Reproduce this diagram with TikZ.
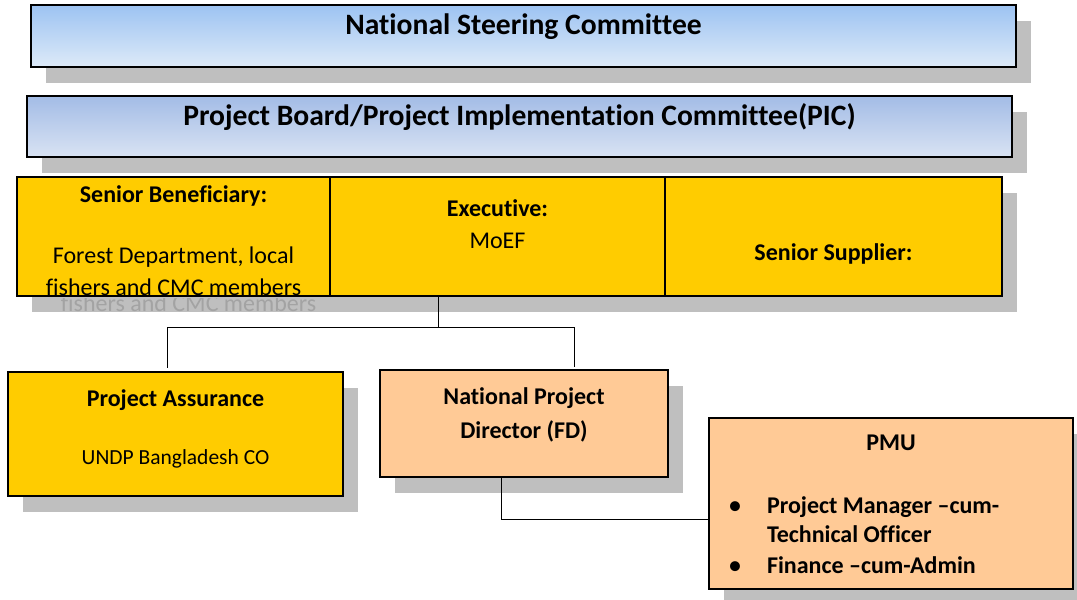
\documentclass[tikz,border=0pt]{standalone}
\usepackage{fontspec}
\setmainfont{Carlito}[Ligatures={TeX,NoCommon}]
\usetikzlibrary{positioning, shadows}
\definecolor{shadowgray}{HTML}{BFBFBF}
\definecolor{ghostgray}{HTML}{A3A3A3}
\definecolor{boxyellow}{HTML}{FFCC00}
\definecolor{boxpeach}{HTML}{FFCA96}
\definecolor{nscTop}{HTML}{9DC3F2}
\definecolor{nscBot}{HTML}{DDEAF8}
\definecolor{picTop}{HTML}{A3BCE6}
\definecolor{picBot}{HTML}{D9E3F3}

\begin{document}
\begin{tikzpicture}[x=1pt, y=-1pt,
    every node/.style={inner sep=0pt, outer sep=0pt},
    box/.style={draw=black, line width=1.4pt, anchor=north west,
        general shadow={fill=shadowgray, shadow xshift=15pt, shadow yshift=-16pt}},
    title/.style={anchor=base, font=\fontsize{29.6}{34}\selectfont\bfseries},
    txt/.style={anchor=base, font=\fontsize{24}{28}\selectfont},
    btxt/.style={txt, font=\fontsize{24}{28}\selectfont\bfseries},
    link/.style={line width=1pt}]
    \useasboundingbox (0,0) rectangle (1077,600);

    % committees on top
    \node[box, top color=nscTop, bottom color=nscBot, minimum width=985pt, minimum height=62pt] (nsc) at (31,5) {};
    \node[title] (nsctext) at (523.5,34) {National Steering Committee};

    \node[box, top color=picTop, bottom color=picBot, minimum width=985pt, minimum height=61pt] (pic) at (27,96) {};
    \node[title] (pictext) at (519.5,125) {Project Board/Project Implementation Committee(PIC)};

    % board members
    \node[box, fill=boxyellow, minimum width=313pt, minimum height=119pt] (benef) at (17,177) {};
    \node[box, fill=boxyellow, minimum width=335pt, minimum height=119pt] (exec) at (330,177) {};
    \node[box, fill=boxyellow, minimum width=337pt, minimum height=119pt] (supp) at (665,177) {};

    \node[btxt] (beneftitle) at (173.5,202) {Senior Beneficiary:};
    \node[txt] (benefa) at (173.5,263) {Forest Department, local};
    \node[txt] (benefb) at (173.5,295) {fishers and CMC members};
    \begin{scope}
        \clip (0,298) rectangle (400,330);
        \node[txt, text=ghostgray] (benefghost) at (188.5,311) {fishers and CMC members};
    \end{scope}

    \node[btxt] (exectitle) at (497.5,216) {Executive:};
    \node[txt] (execa) at (497.5,248) {MoEF};

    \node[btxt] (supptitle) at (833.5,260) {Senior Supplier:};

    % lower level
    \node[box, fill=boxyellow, minimum width=335pt, minimum height=124pt] (pa) at (8,372) {};
    \node[btxt] (patitle) at (175.5,406) {Project Assurance};
    \node[txt, font=\fontsize{21.5}{26}\selectfont] (paa) at (175.5,464) {UNDP Bangladesh CO};

    \node[box, fill=boxpeach, minimum width=288pt, minimum height=107pt] (npd) at (380,370) {};
    \node[btxt] (npda) at (524,404) {National Project};
    \node[btxt] (npdb) at (524,438) {Director (FD)};

    \node[box, fill=boxpeach, minimum width=364pt, minimum height=171pt] (pmu) at (709,418) {};
    \node[btxt] (pmutitle) at (891,450) {PMU};
    \node[btxt, anchor=base west] (pmua) at (767,513) {Project Manager –cum-};
    \node[btxt, anchor=base west] (pmub) at (767,542) {Technical Officer};
    \node[btxt, anchor=base west] (pmuc) at (767,573) {Finance –cum-Admin};
    \node[txt, font=\fontsize{28}{28}\selectfont] (bula) at (735,514) {•};
    \node[txt, font=\fontsize{28}{28}\selectfont] (bulb) at (735,574) {•};

    % connectors
    \coordinate (hub) at (438,327);
    \coordinate (hubL) at (167,327);
    \coordinate (hubR) at (574,327);
    \coordinate (npdout) at (501,519);
    \draw[link] (exec.south -| hub) -- (hub);
    \draw[link] (hubL) -- (hubR);
    \draw[link, shorten >=4pt] (hubL) -- (hubL |- pa.north);
    \draw[link, shorten >=3pt] (hubR) -- (hubR |- npd.north);
    \draw[link] (npd.south -| npdout) -- (npdout) -- (pmu.west |- npdout);
\end{tikzpicture}
\end{document}
